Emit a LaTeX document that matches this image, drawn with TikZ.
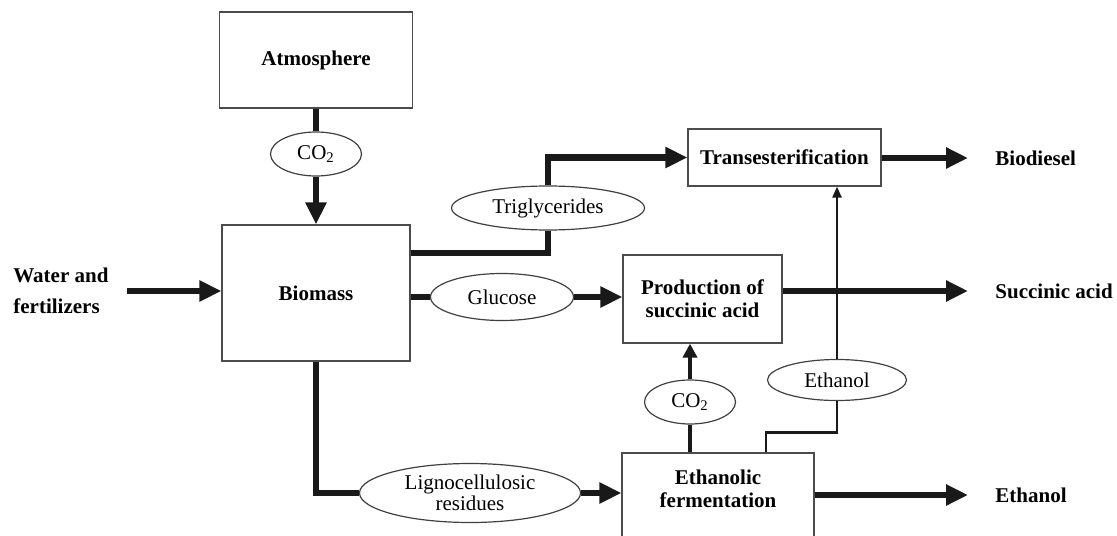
\documentclass[tikz,border=0pt]{standalone}
\usepackage{fontspec}
\setmainfont{Liberation Serif}
\usetikzlibrary{arrows.meta,shapes.geometric,calc}

\begin{document}
\begin{tikzpicture}[x=0.5pt, y=-0.5pt, font=\fontsize{10.5}{12.5}\selectfont,
    box/.style={draw=black!70, line width=0.6pt, inner sep=2pt, align=center, font=\fontsize{10.5}{11.5}\selectfont\bfseries},
    boxtxt/.style={inner sep=0pt, align=center, font=\fontsize{10.5}{11.5}\selectfont\bfseries},
    flow/.style={ellipse, draw=black!75, line width=0.6pt, inner sep=0pt, align=center, font=\fontsize{10.5}{10.5}\selectfont},
    outtxt/.style={anchor=west, inner sep=0pt, align=left, font=\fontsize{10.5}{12.5}\selectfont\bfseries},
    big/.style={line width=3.4pt, black!90},
    mid/.style={line width=2.3pt, black!90},
    lean/.style={line width=1.2pt, black!90},
    bigtip/.style={-{Triangle[length=11pt, width=10pt]}},
    midtip/.style={-{Triangle[length=7pt, width=7pt]}},
    leantip/.style={-{Triangle[length=5.5pt, width=4.5pt]}}]
  \useasboundingbox (0,0) rectangle (1117,535);
  \clip (0,0) rectangle (1117,535);
  % ---------------- process boxes ----------------
  \node[box, minimum width=96.5pt, minimum height=48pt] (atm) at (316,60) {Atmosphere};
  \node[box, minimum width=94pt, minimum height=68pt] (bio) at (316,293) {Biomass};
  \node[box, minimum width=96.5pt, minimum height=28.5pt] (trans) at (784.5,157.5) {Transesterification};
  \node[box, minimum width=79.5pt, minimum height=44pt] (succ) at (702.5,299) {Production of\\ succinic acid};
  \node[box, minimum width=96pt, minimum height=53pt] (ferm) at (718,506) {};
  \node[boxtxt] (fermtxt) at (718,489) {Ethanolic\\ fermentation};
  % ---------------- intermediate streams ----------------
  \node[flow, minimum width=45.5pt, minimum height=22pt] (co2a) at (316,154) {CO\textsubscript{2}};
  \node[flow, minimum width=96.5pt, minimum height=22pt] (trig) at (548,208) {Triglycerides};
  \node[flow, minimum width=71.5pt, minimum height=23.5pt] (gluc) at (502,297) {Glucose};
  \node[flow, minimum width=110.5pt, minimum height=29.5pt] (ligno) at (470,493) {Lignocellulosic\\ residues};
  \node[flow, minimum width=45.5pt, minimum height=22pt] (co2b) at (690,402) {CO\textsubscript{2}};
  \node[flow, minimum width=69.5pt, minimum height=20.5pt] (etoh) at (837,380) {Ethanol};
  % ---------------- inputs and products ----------------
  \node[outtxt] (water) at (13,291) {Water and\\[3pt] fertilizers};
  \node[outtxt] (biod) at (995,158) {Biodiesel};
  \node[outtxt] (succa) at (995,291) {Succinic acid};
  \node[outtxt] (etohout) at (995,495) {Ethanol};
  % ---------------- main flows ----------------
  \draw[big] (atm) -- (co2a);
  \draw[big, bigtip] (co2a) -- (bio);
  \draw[big, bigtip, shorten <=9pt] (water.east) -- (water.east -| bio.west);
  \draw[big] ([yshift=20pt]bio.east) -| (trig);
  \draw[big, bigtip] (trig) |- (trans);
  \draw[big] (bio.east |- gluc) -- (gluc);
  \draw[big, bigtip] (gluc) -- (gluc -| succ.west);
  \draw[big] (bio) |- (ligno);
  \draw[big, bigtip] (ligno) -- (ligno -| ferm.west);
  % ---------------- products ----------------
  \draw[big, bigtip, shorten >=13.5pt] (biod.west -| trans.east) -- (biod.west);
  \draw[big, bigtip, shorten >=13.5pt] (succa.west -| succ.east) -- (succa.west);
  \draw[big, bigtip, shorten >=13.5pt] (etohout.west -| ferm.east) -- (etohout.west);
  % ---------------- recycle streams ----------------
  \draw[mid] (co2b |- ferm.north) -- (co2b);
  \draw[mid, midtip] (co2b) -- (co2b |- succ.south);
  \draw[lean] ([xshift=24pt]ferm.north) -- ++(0,-20) -| (etoh);
  \draw[lean, leantip] (etoh) -- (etoh |- trans.south);
\end{tikzpicture}
\end{document}
